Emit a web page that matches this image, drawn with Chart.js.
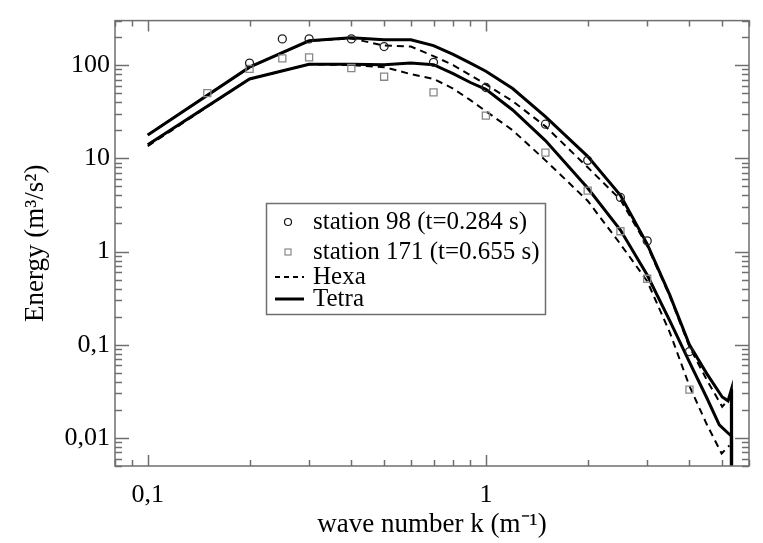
<!DOCTYPE html>
<html>
<head>
<meta charset="utf-8">
<script src="https://cdn.jsdelivr.net/npm/chart.js@4.4.0/dist/chart.umd.min.js"></script>
<style>
  html, body { margin: 0; padding: 0; background: #fff; }
</style>
</head>
<body>
<canvas id="spectrum" width="763" height="543"></canvas>
<script>
const SERIF = "'Liberation Serif', 'Times New Roman', serif";
const FRAME = '#6f6f6f';

// ── data: k in m^-1, energy in m^3/s^2 ───────────────────────────────

const kTetra98 = [0.1, 0.2, 0.3, 0.4, 0.5, 0.6, 0.7, 0.8, 0.9, 1, 1.2, 1.5, 2, 2.5, 3, 3.5, 4, 4.5, 5, 5.2, 5.32, 5.33];
const eTetra98 = [17.8, 95, 182, 196, 187, 187, 162, 130, 105, 86, 56, 28, 10.5, 4.0, 1.2, 0.34, 0.10, 0.049, 0.0275, 0.025, 0.033, 0.0001];

const kHexa98 = [0.1, 0.2, 0.3, 0.4, 0.5, 0.6, 0.7, 0.8, 0.9, 1, 1.2, 1.5, 2, 2.5, 3, 3.5, 4, 4.5, 5, 5.27];
const eHexa98 = [17.8, 95, 182, 193, 162, 158, 125, 100, 78, 62, 41, 22, 8.0, 3.6, 1.15, 0.33, 0.095, 0.042, 0.0216, 0.027];

const kTetra171 = [0.1, 0.2, 0.3, 0.4, 0.5, 0.6, 0.7, 0.8, 0.9, 1, 1.2, 1.5, 2, 2.5, 3, 3.5, 4, 4.5, 4.9, 5.2, 5.32, 5.33];
const eTetra171 = [14, 71, 102, 102, 101, 105, 101, 81, 65, 55, 33, 15.5, 4.8, 1.7, 0.56, 0.18, 0.065, 0.027, 0.0138, 0.0113, 0.0105, 0.0001];

const kHexa171 = [0.1, 0.2, 0.3, 0.4, 0.5, 0.6, 0.7, 0.8, 0.9, 1, 1.2, 1.5, 2, 2.5, 3, 3.5, 4, 4.5, 4.98, 5.25];
const eHexa171 = [13.5, 71, 102, 100, 95, 80, 71, 56, 42, 32, 20, 9.5, 3.5, 1.2, 0.48, 0.135, 0.036, 0.014, 0.0068, 0.0083];

// measured points
const kStation98 = [0.2, 0.25, 0.3, 0.4, 0.5, 0.7, 1, 1.5, 2, 2.5, 3, 4];
const eStation98 = [105, 191, 191, 191, 158, 107, 57.5, 23.2, 9.5, 3.8, 1.3, 0.0845];

const kStation171 = [0.15, 0.2, 0.25, 0.3, 0.4, 0.5, 0.7, 1, 1.5, 2, 2.5, 3, 4];
const eStation171 = [50, 91, 118, 121, 93, 75, 51, 28.7, 11.5, 4.5, 1.65, 0.51, 0.033];

const legendLabels = ['station 98 (t=0.284 s)', 'station 171 (t=0.655 s)', 'Hexa', 'Tetra'];

// axis ranges and labelled decades
const X_MIN = 0.08, X_MAX = 6.0;
const Y_MIN = 0.005, Y_MAX = 300;
const xMajor = [0.1, 1];
const yMajor = [0.01, 0.1, 1, 10, 100];

// ── helpers ──────────────────────────────────────────────────────────

const pts = (ks, es) => ks.map((k, i) => ({ x: k, y: es[i] }));

function logTicks(min, max) {
  const out = [];
  for (let e = -4; e <= 3; e++) {
    for (let m = 1; m <= 9; m++) {
      const v = +(m * Math.pow(10, e)).toPrecision(6);
      if (v >= min * 0.9999 && v <= max * 1.0001) out.push(v);
    }
  }
  return out;
}

const isMajor = (v, majors) => majors.some(m => Math.abs(Math.log10(v) - Math.log10(m)) < 1e-6);
const fmt = v => String(+(+v).toPrecision(6)).replace('.', ',');

const xTicks = logTicks(X_MIN, X_MAX);
const yTicks = logTicks(Y_MIN, Y_MAX);

// inward ticks on all four sides + grey frame
const frameTicks = {
  id: 'frameTicks',
  afterDatasetsDraw(chart) {
    const { ctx, chartArea: a, scales } = chart;
    ctx.save();
    ctx.strokeStyle = FRAME;
    ctx.lineWidth = 1.5;
    ctx.beginPath();
    xTicks.forEach(v => {
      const px = Math.round(scales.x.getPixelForValue(v)) + 0.5;
      const len = isMajor(v, xMajor) ? 11 : 6;
      ctx.moveTo(px, a.bottom); ctx.lineTo(px, a.bottom - len);
      ctx.moveTo(px, a.top);    ctx.lineTo(px, a.top + len);
    });
    yTicks.forEach(v => {
      const py = Math.round(scales.y.getPixelForValue(v)) + 0.5;
      const len = isMajor(v, yMajor) ? 14 : 7;
      ctx.moveTo(a.left, py);  ctx.lineTo(a.left + len, py);
      ctx.moveTo(a.right, py); ctx.lineTo(a.right - len, py);
    });
    ctx.stroke();
    ctx.strokeRect(a.left, a.top, a.right - a.left, a.bottom - a.top);
    ctx.restore();
  },
};

// boxed legend inside the plot
const boxLegend = {
  id: 'boxLegend',
  afterDraw(chart) {
    const { ctx } = chart;
    const rows = [222, 252, 277, 299];
    ctx.save();
    ctx.strokeStyle = FRAME;
    ctx.lineWidth = 1.5;
    ctx.strokeRect(266.5, 203.5, 279, 111);

    ctx.fillStyle = '#000';
    ctx.font = `25px ${SERIF}`;
    ctx.textBaseline = 'middle';
    legendLabels.forEach((t, i) => ctx.fillText(t, 313, rows[i]));

    ctx.lineWidth = 1.2;
    ctx.strokeStyle = '#111';
    ctx.beginPath(); ctx.arc(288, rows[0], 3.5, 0, Math.PI * 2); ctx.stroke();
    ctx.strokeStyle = '#888';
    ctx.strokeRect(285, rows[1] - 3, 6, 6);

    ctx.strokeStyle = '#000';
    ctx.lineWidth = 2;
    ctx.setLineDash([5, 4]);
    ctx.beginPath(); ctx.moveTo(275, rows[2]); ctx.lineTo(304, rows[2]); ctx.stroke();
    ctx.setLineDash([]);
    ctx.lineWidth = 3;
    ctx.beginPath(); ctx.moveTo(275, rows[3]); ctx.lineTo(304, rows[3]); ctx.stroke();
    ctx.restore();
  },
};

// ── chart ────────────────────────────────────────────────────────────

const solid  = { borderColor: '#000', borderWidth: 3, pointRadius: 0, showLine: true, tension: 0, clip: 0 };
const dashed = { borderColor: '#000', borderWidth: 2, borderDash: [7, 5], pointRadius: 0, showLine: true, tension: 0, clip: 0 };

new Chart(document.getElementById('spectrum'), {
  type: 'scatter',
  data: {
    datasets: [
      {
        label: legendLabels[0],
        data: pts(kStation98, eStation98),
        pointStyle: 'circle',
        pointRadius: 4,
        borderColor: '#222',
        backgroundColor: 'rgba(0,0,0,0)',
        borderWidth: 1.3,
      },
      {
        label: legendLabels[1],
        data: pts(kStation171, eStation171),
        pointStyle: 'rect',
        pointRadius: 5,
        borderColor: '#888',
        backgroundColor: 'rgba(0,0,0,0)',
        borderWidth: 1.3,
      },
      { label: 'Hexa 98',   data: pts(kHexa98, eHexa98),     ...dashed },
      { label: 'Hexa 171',  data: pts(kHexa171, eHexa171),   ...dashed },
      { label: 'Tetra 98',  data: pts(kTetra98, eTetra98),   ...solid },
      { label: 'Tetra 171', data: pts(kTetra171, eTetra171), ...solid },
    ],
  },
  options: {
    responsive: false,
    animation: false,
    devicePixelRatio: 1,
    layout: { padding: { top: 7, right: 3, left: 0, bottom: 0 } },
    plugins: { legend: { display: false }, tooltip: { enabled: false } },
    scales: {
      x: {
        type: 'logarithmic',
        min: X_MIN,
        max: X_MAX,
        afterBuildTicks: s => { s.ticks = xTicks.map(v => ({ value: v })); },
        afterFit: s => { s.height = 77; },
        grid: { display: false, drawTicks: false },
        border: { display: false },
        ticks: {
          autoSkip: false,
          maxRotation: 0,
          padding: 14,
          color: '#000',
          font: { family: SERIF, size: 26 },
          callback: v => isMajor(v, xMajor) ? fmt(v) : '',
        },
        title: {
          display: true,
          text: 'wave number k (m⁻¹)',
          color: '#000',
          font: { family: SERIF, size: 27 },
          padding: { top: 0, bottom: 2 },
        },
      },
      y: {
        type: 'logarithmic',
        min: Y_MIN,
        max: Y_MAX,
        afterBuildTicks: s => { s.ticks = yTicks.map(v => ({ value: v })); },
        afterFit: s => { s.width = 115; },
        grid: { display: false, drawTicks: false },
        border: { display: false },
        ticks: {
          autoSkip: false,
          padding: 5,
          color: '#000',
          font: { family: SERIF, size: 26 },
          callback: v => isMajor(v, yMajor) ? fmt(v) : '',
        },
        title: {
          display: true,
          text: 'Energy (m³/s²)',
          color: '#000',
          font: { family: SERIF, size: 27 },
          padding: { top: 20, bottom: 0 },
        },
      },
    },
  },
  plugins: [frameTicks, boxLegend],
});
</script>
</body>
</html>
